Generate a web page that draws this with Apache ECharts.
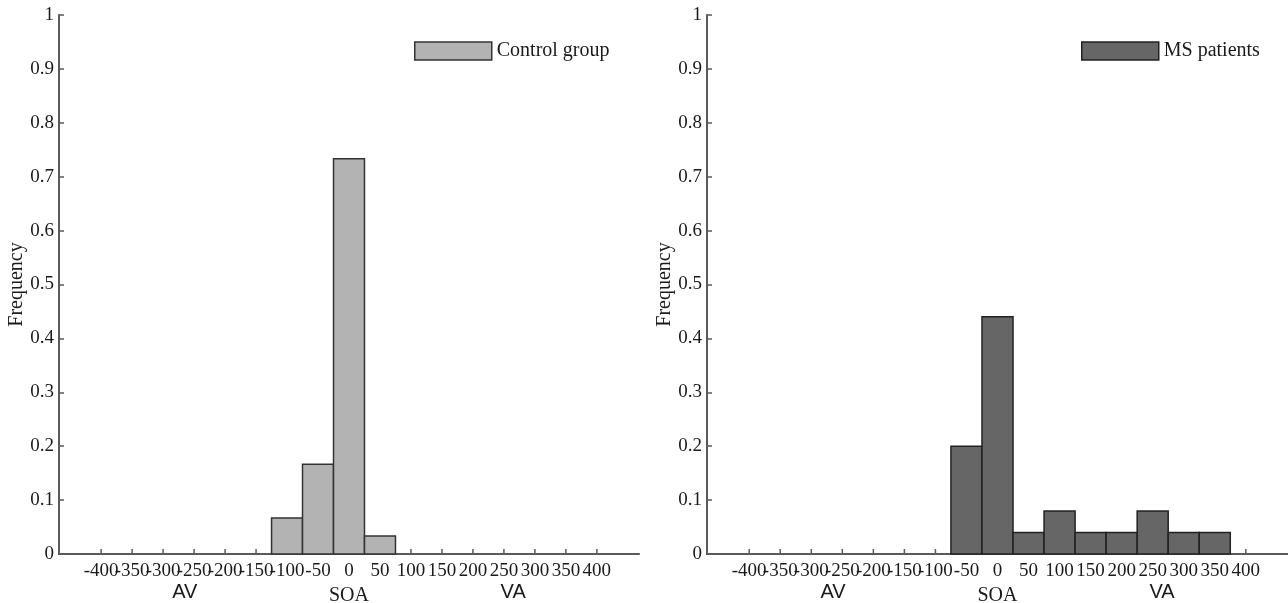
<!DOCTYPE html>
<html>
<head>
<meta charset="utf-8">
<script src="https://cdn.jsdelivr.net/npm/echarts@6/dist/echarts.min.js"></script>
<style>
html,body{margin:0;padding:0;background:#fff;}
#chart{width:1288px;height:603px;}
</style>
</head>
<body>
<div id="chart"></div>
<script>
// ---- data ----
const binCenters = [-400,-350,-300,-250,-200,-150,-100,-50,0,50,100,150,200,250,300,350,400];
const controlBins = [-100, -50, 0, 50];
const controlFreq = [0.0667, 0.1667, 0.7333, 0.0333];
const msBins = [-50, 0, 50, 100, 150, 200, 250, 300, 350];
const msFreq = [0.20, 0.44, 0.04, 0.08, 0.04, 0.04, 0.08, 0.04, 0.04];
const xTicks = binCenters;
const sideLabels = [{v:-265, t:'AV'}, {v:265, t:'VA'}];
const BIN_WIDTH = 50;
const X_MIN = -468, X_MAX = 468;

// tick labels are split over two stacked axes so ECharts does not drop crowded neighbours
const xTicksA = xTicks.filter((v, i) => i % 2 === 0);
const xTicksB = xTicks.filter((v, i) => i % 2 === 1);

const serif = '"Liberation Serif", "Times New Roman", "DejaVu Serif", serif';
const sans = '"Liberation Sans", Arial, sans-serif';
const axisColor = '#5a5a5a';
const textColor = '#1a1a1a';

function renderBin(params, api) {
  const x = api.value(0), y = api.value(1);
  const p0 = api.coord([x - BIN_WIDTH / 2, 0]);
  const p1 = api.coord([x + BIN_WIDTH / 2, y]);
  return {
    type: 'rect',
    shape: {x: p0[0], y: p1[1], width: p1[0] - p0[0], height: p0[1] - p1[1]},
    style: api.style()
  };
}
// short tick marks on the x axis at the tick values (inside, pointing up)
function renderTick(params, api) {
  const p = api.coord([api.value(0), 0]);
  return {
    type: 'line',
    shape: {x1: p[0], y1: p[1], x2: p[0], y2: p[1] - 5},
    style: {stroke: axisColor, lineWidth: 1.5}
  };
}

const tickLabelStyle = {fontFamily: serif, fontSize: 19, color: textColor};

function mainX(gi) {
  return {
    type: 'value', gridIndex: gi, min: X_MIN, max: X_MAX,
    splitLine: {show: false},
    axisLine: {show: true, onZero: false, lineStyle: {color: axisColor, width: 2}},
    axisTick: {show: false},
    axisLabel: Object.assign({customValues: xTicksA, hideOverlap: false, margin: 8}, tickLabelStyle),
    name: 'SOA', nameLocation: 'middle', nameGap: 28,
    nameTextStyle: {fontFamily: serif, fontSize: 20, color: textColor}
  };
}
function oddX(gi) {
  return {
    type: 'value', gridIndex: gi, min: X_MIN, max: X_MAX, position: 'bottom',
    splitLine: {show: false}, axisLine: {show: false, onZero: false}, axisTick: {show: false},
    axisLabel: Object.assign({customValues: xTicksB, hideOverlap: false, margin: 8}, tickLabelStyle)
  };
}
function sideX(gi) {
  return {
    type: 'value', gridIndex: gi, min: X_MIN, max: X_MAX, position: 'bottom',
    splitLine: {show: false}, axisLine: {show: false, onZero: false}, axisTick: {show: false},
    axisLabel: {
      customValues: sideLabels.map(d => d.v), margin: 28, hideOverlap: false,
      formatter: v => (sideLabels.find(d => d.v === v) || {}).t || '',
      fontFamily: sans, fontSize: 20, color: textColor
    }
  };
}
function yAx(gi) {
  return {
    type: 'value', gridIndex: gi, min: 0, max: 1, interval: 0.1,
    splitLine: {show: false},
    axisLine: {show: true, onZero: false, lineStyle: {color: axisColor, width: 2}},
    axisTick: {show: true, inside: true, length: 5, lineStyle: {color: axisColor, width: 1.5}},
    axisLabel: {margin: 5, fontFamily: serif, fontSize: 19, color: textColor},
    name: 'Frequency', nameLocation: 'middle', nameGap: 27,
    nameTextStyle: {fontFamily: serif, fontSize: 20, color: textColor}
  };
}

const chart = echarts.init(document.getElementById('chart'), null, {renderer: 'canvas'});
chart.setOption({
  animation: false,
  backgroundColor: '#fff',
  grid: [
    {left: 59, top: 15, width: 580, height: 539, containLabel: false, outerBoundsMode: 'none'},
    {left: 707, top: 15, width: 581, height: 539, containLabel: false, outerBoundsMode: 'none'}
  ],
  xAxis: [mainX(0), mainX(1), oddX(0), oddX(1), sideX(0), sideX(1)],
  yAxis: [yAx(0), yAx(1)],
  legend: [
    {left: 409, top: 36, itemWidth: 77, itemHeight: 18, icon: 'rect',
     textStyle: {fontFamily: serif, fontSize: 20, color: textColor},
     data: [{name: 'Control group', itemStyle: {color: '#b3b3b3', borderColor: '#333', borderWidth: 1.5}}]},
    {left: 1076, top: 36, itemWidth: 77, itemHeight: 18, icon: 'rect',
     textStyle: {fontFamily: serif, fontSize: 20, color: textColor},
     data: [{name: 'MS patients', itemStyle: {color: '#666666', borderColor: '#222', borderWidth: 1.5}}]}
  ],
  series: [
    {name: 'xticks0', type: 'custom', xAxisIndex: 0, yAxisIndex: 0, renderItem: renderTick,
     silent: true, data: xTicks.map(v => [v]), z: 1},
    {name: 'xticks1', type: 'custom', xAxisIndex: 1, yAxisIndex: 1, renderItem: renderTick,
     silent: true, data: xTicks.map(v => [v]), z: 1},
    {name: 'Control group', type: 'custom', xAxisIndex: 0, yAxisIndex: 0,
     renderItem: renderBin, z: 2,
     itemStyle: {color: '#b3b3b3', borderColor: '#333', borderWidth: 1.5},
     data: controlBins.map((b, i) => [b, controlFreq[i]])},
    {name: 'MS patients', type: 'custom', xAxisIndex: 1, yAxisIndex: 1,
     renderItem: renderBin, z: 2,
     itemStyle: {color: '#666666', borderColor: '#222', borderWidth: 1.5},
     data: msBins.map((b, i) => [b, msFreq[i]])}
  ]
});
</script>
</body>
</html>
